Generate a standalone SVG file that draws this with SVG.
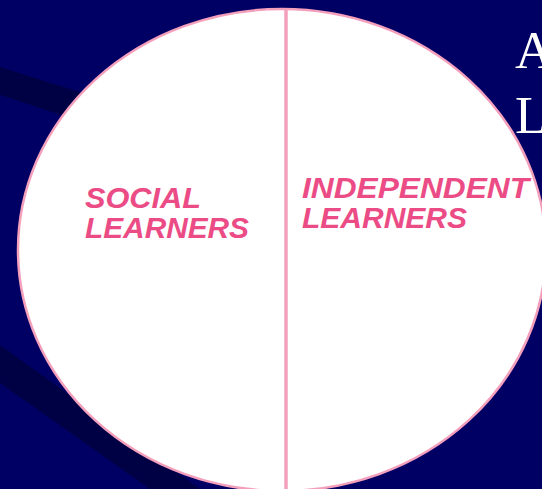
<svg xmlns="http://www.w3.org/2000/svg" width="542" height="489" viewBox="0 0 542 489">
  <style>
    .band { fill: #000044; }
    .title { font-family: "Liberation Serif", "Times New Roman", serif; font-size: 53px; fill: #ffffff; }
    .label { font-family: "Liberation Sans", Arial, sans-serif; font-size: 30px; font-weight: bold; font-style: italic; fill: #ec4c86; }
    .outline { fill: #ffffff; stroke: #f4a0bc; stroke-width: 2.5; }
    .divider { stroke: #f4a0bc; stroke-width: 3.5; fill: none; }
  </style>
  <rect x="0" y="0" width="542" height="489" fill="#000064"/>
  <g id="background-bands">
    <polygon class="band" points="0,67 200,130 200,160 0,95"/>
    <polygon class="band" points="0,345 200,489 150,489 0,383"/>
  </g>
  <g id="title">
    <text class="title" x="515" y="68">A</text>
    <text class="title" x="515" y="133">L</text>
  </g>
  <g id="circle">
    <ellipse class="outline" cx="282" cy="250" rx="264" ry="241"/>
  </g>
  <g id="connectors">
    <line class="divider" x1="286" y1="9" x2="286" y2="489"/>
  </g>
  <g id="social-learners">
    <text class="label" x="85" y="208" textLength="116" lengthAdjust="spacingAndGlyphs">SOCIAL</text>
    <text class="label" x="85" y="238" textLength="164" lengthAdjust="spacingAndGlyphs">LEARNERS</text>
  </g>
  <g id="independent-learners">
    <text class="label" x="302" y="198" textLength="227" lengthAdjust="spacingAndGlyphs">INDEPENDENT</text>
    <text class="label" x="302" y="228" textLength="165" lengthAdjust="spacingAndGlyphs">LEARNERS</text>
  </g>
</svg>
